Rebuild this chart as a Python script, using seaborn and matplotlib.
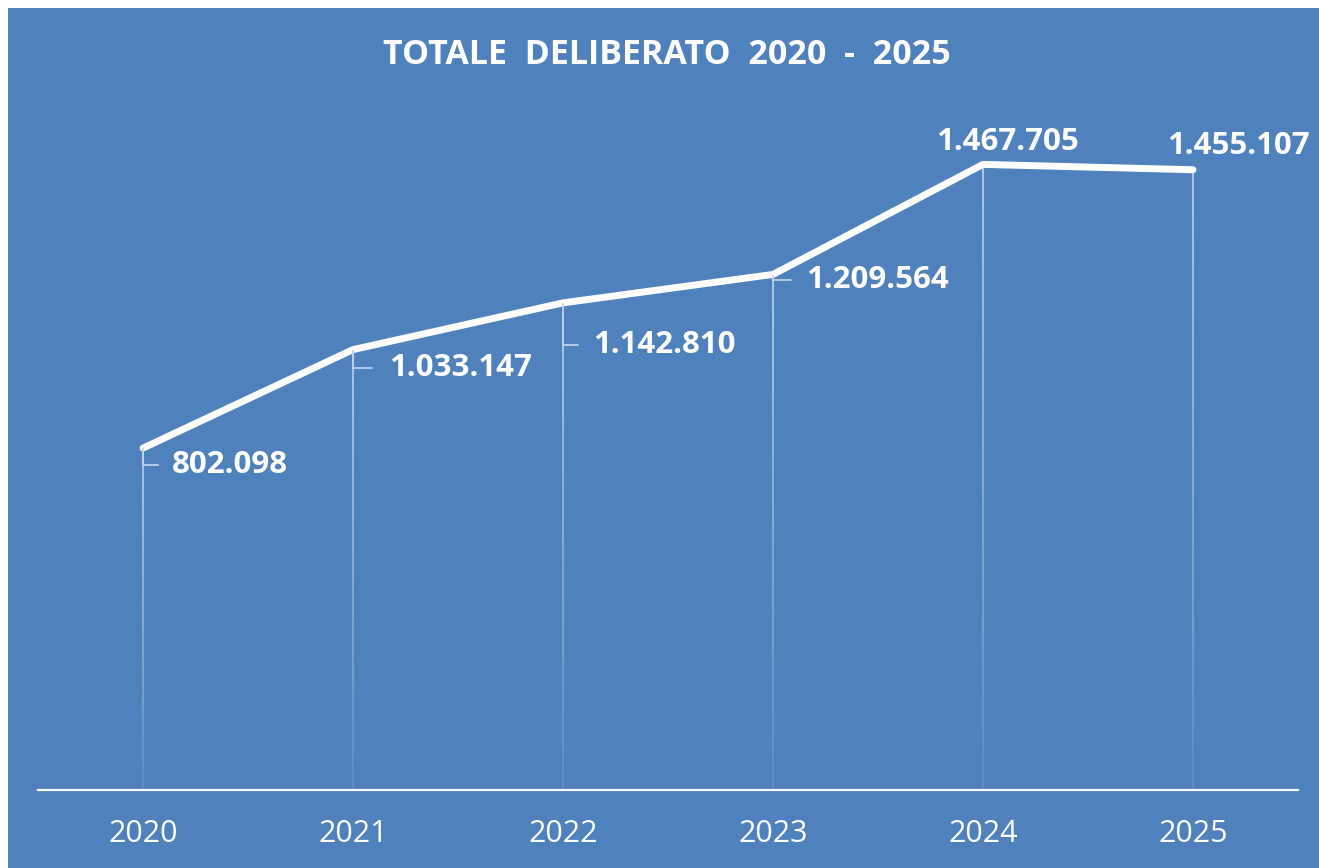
import numpy as np
import pandas as pd
import seaborn as sns
import matplotlib.pyplot as plt
from matplotlib.patches import Rectangle

# ========= data =========
years = ["2020", "2021", "2022", "2023", "2024", "2025"]
totals = [802098, 1033147, 1142810, 1209564, 1467705, 1455107]
labels = ["802.098", "1.033.147", "1.142.810", "1.209.564", "1.467.705", "1.455.107"]
# label offsets in points (dx, dy), alignment and leader shrink
offsets = [(21, -12), (26, -13), (21.5, -30), (24, -4), (18, 16), (33, 17)]
aligns = ["left", "left", "left", "left", "center", "center"]
shrinks = [8, 10, 8, 9, 0, 0]

df = pd.DataFrame({"year": years, "total": totals})

BLUE = "#4F81BD"

sns.set_theme(style="white")
plt.rcParams["font.family"] = ["Open Sans", "DejaVu Sans"]

fig = plt.figure(figsize=(13.19, 8.68), dpi=100, facecolor="white")
fig.patches.append(Rectangle((8 / 1319, 0), 1, 1 - 8 / 868, transform=fig.transFigure,
                             facecolor=BLUE, edgecolor="none", zorder=-5))

ax = fig.add_axes([38 / 1319, 1 - 790 / 868, 1260 / 1319, 682 / 868])
ax.set_facecolor("none")
ax.set_zorder(2)

x = np.arange(len(years))

# drop lines, fading toward the bottom
n = 40
for i, v in enumerate(totals):
    for k in range(n):
        y0 = v * k / n
        y1 = v * (k + 1) / n
        ax.plot([x[i], x[i]], [y0, y1], color="white", lw=1.1,
                alpha=0.12 + 0.6 * (k / n), solid_capstyle="butt", zorder=1)

sns.lineplot(x=x, y=df["total"], ax=ax, color="white", lw=5,
             solid_capstyle="round", solid_joinstyle="round", zorder=3)

for i, (v, lab) in enumerate(zip(totals, labels)):
    dx, dy = offsets[i]
    arrow = None
    if aligns[i] == "left":
        arrow = dict(arrowstyle="-", color="#c3d1e6", lw=1.3,
                     shrinkA=shrinks[i], shrinkB=1,
                     connectionstyle="angle,angleA=0,angleB=90,rad=0")
    ax.annotate(lab, xy=(x[i], v), xytext=(dx, dy), textcoords="offset points",
                ha=aligns[i], va="center", fontsize=22.5, fontweight="bold",
                color="white", zorder=4, arrowprops=arrow)

ax.set_xlim(-0.5, 5.5)
ax.set_ylim(0, 1600000)
ax.set_xticks(x)
ax.set_xticklabels(years, fontsize=22, color="white")
ax.set_yticks([])
ax.tick_params(axis="x", length=0, pad=21)
for s in ["left", "right", "top"]:
    ax.spines[s].set_visible(False)
ax.spines["bottom"].set_color("white")
ax.spines["bottom"].set_linewidth(1.6)
ax.set_xlabel("")
ax.set_ylabel("")

fig.text(667 / 1319, 1 - 55 / 868, "TOTALE  DELIBERATO  2020  -  2025", ha="center", va="center",
         fontsize=24.5, fontweight="bold", color="white")

fig.savefig("out.png", dpi=100, facecolor="white")
